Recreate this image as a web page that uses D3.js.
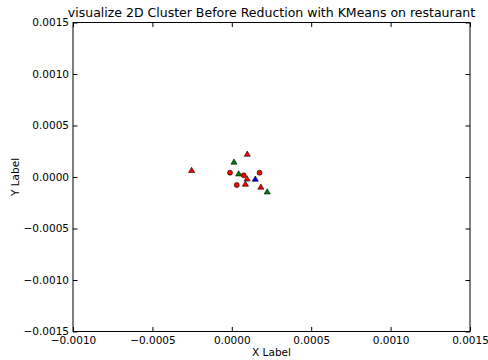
<!DOCTYPE html>
<html>
<head>
<meta charset="utf-8">
<script src="https://cdn.jsdelivr.net/npm/d3@7"></script>
<style>
  body { margin: 0; background: #fff; }
  svg { font-family: "DejaVu Sans", sans-serif; }
</style>
</head>
<body>
<div id="chart"></div>
<script>
// points
let xs = [0.0000975, 0.0000139, -0.000253, -0.0000113, 0.0000435, 0.0000747, 0.000175, 0.0000963, 0.000148, 0.0000312, 0.0000857, 0.000183, 0.000223];
let ys = [0.000223, 0.000146, 0.000065, 0.0000417, 0.000032, 0.0000165, 0.0000417, -0.0000165, -0.0000194, -0.0000777, -0.000068, -0.000097, -0.000143];
let shapes = ["tri", "tri", "tri", "circ", "tri", "circ", "circ", "tri", "tri", "circ", "tri", "tri", "tri"];
let colors = ["red", "green", "red", "red", "green", "red", "red", "red", "blue", "red", "red", "red", "green"];
let xTicks = [-0.001, -0.0005, 0, 0.0005, 0.001, 0.0015];
let yTicks = [-0.0015, -0.001, -0.0005, 0, 0.0005, 0.001, 0.0015];

let palette = { red: "#ff0000", green: "#008000", blue: "#0000ff" };

let width = 488, height = 360;
let margin = { top: 22.5, right: 18, bottom: 28.5, left: 73 };

let svg = d3.select("#chart").append("svg")
  .attr("width", width)
  .attr("height", height);

let x = d3.scaleLinear().domain([-0.001, 0.0015]).range([margin.left, width - margin.right]);
let y = d3.scaleLinear().domain([-0.0015, 0.0015]).range([height - margin.bottom, margin.top]);

let fmt = d => d3.format(".4f")(d).replace("-", "\u2212");

// frame
svg.append("rect")
  .attr("x", x.range()[0])
  .attr("y", y.range()[1])
  .attr("width", x.range()[1] - x.range()[0])
  .attr("height", y.range()[0] - y.range()[1])
  .attr("fill", "none")
  .attr("stroke", "#000")
  .attr("stroke-width", 1);

// inward ticks on all four sides
let tl = 4.5;
let axB = svg.append("g").attr("transform", `translate(0,${y.range()[0]})`)
  .call(d3.axisBottom(x).tickValues(xTicks).tickSizeInner(-tl).tickSizeOuter(0).tickPadding(5).tickFormat(fmt));
let axT = svg.append("g").attr("transform", `translate(0,${y.range()[1]})`)
  .call(d3.axisTop(x).tickValues(xTicks).tickSizeInner(-tl).tickSizeOuter(0).tickFormat(""));
let axL = svg.append("g").attr("transform", `translate(${x.range()[0]},0)`)
  .call(d3.axisLeft(y).tickValues(yTicks).tickSizeInner(-tl).tickSizeOuter(0).tickPadding(4).tickFormat(fmt));
let axR = svg.append("g").attr("transform", `translate(${x.range()[1]},0)`)
  .call(d3.axisRight(y).tickValues(yTicks).tickSizeInner(-tl).tickSizeOuter(0).tickFormat(""));

[axB, axT, axL, axR].forEach(a => {
  a.select(".domain").remove();
  a.selectAll("text").attr("font-family", "DejaVu Sans").attr("font-size", 10.5).attr("fill", "#000");
});

// points
let idx = d3.range(xs.length);
let tri = d3.symbol().type(d3.symbolTriangle).size(16);
svg.append("g").selectAll("path")
  .data(idx.filter(i => shapes[i] == "tri"))
  .enter().append("path")
  .attr("d", tri)
  .attr("transform", i => `translate(${x(xs[i])},${y(ys[i]) + 0.5})`)
  .attr("fill", i => palette[colors[i]])
  .attr("stroke", "#000")
  .attr("stroke-width", 0.6);

svg.append("g").selectAll("circle")
  .data(idx.filter(i => shapes[i] == "circ"))
  .enter().append("circle")
  .attr("cx", i => x(xs[i]))
  .attr("cy", i => y(ys[i]))
  .attr("r", 2.5)
  .attr("fill", i => palette[colors[i]])
  .attr("stroke", "#000")
  .attr("stroke-width", 0.6);

// labels
svg.append("text")
  .attr("x", (x.range()[0] + x.range()[1]) / 2)
  .attr("y", 17)
  .attr("text-anchor", "middle")
  .attr("font-size", 12.5)
  .text("visualize 2D Cluster Before Reduction with KMeans on restaurant");

svg.append("text")
  .attr("x", (x.range()[0] + x.range()[1]) / 2)
  .attr("y", 356)
  .attr("text-anchor", "middle")
  .attr("font-size", 10.5)
  .text("X Label");

svg.append("text")
  .attr("transform", `translate(19,${(y.range()[0] + y.range()[1]) / 2}) rotate(-90)`)
  .attr("text-anchor", "middle")
  .attr("font-size", 10.5)
  .text("Y Label");
</script>
</body>
</html>
